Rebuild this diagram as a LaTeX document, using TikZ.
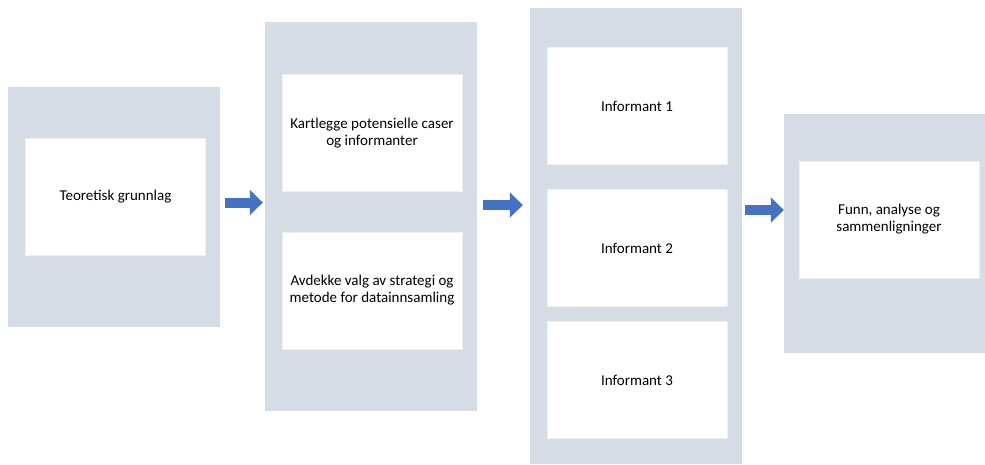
\documentclass[tikz,border=0pt]{standalone}
\usepackage{fontspec}
\setmainfont{Carlito}
\usetikzlibrary{arrows.meta}
\definecolor{panelgray}{RGB}{214,220,229}
\definecolor{flowblue}{RGB}{68,114,196}

\begin{document}
\begin{tikzpicture}[x=1pt,y=-1pt,
    panel/.style={fill=panelgray,inner sep=0pt},
    card/.style={fill=white,draw=black!6,minimum width=180pt,minimum height=117pt,
        align=center,font=\fontsize{15}{17}\selectfont},
    flow/.style={draw=flowblue,line width=10pt,-{Triangle[length=13pt,width=25pt]}}]
    \useasboundingbox (0,0) rectangle (985,464);
    % Felt
    \node[panel,minimum width=212pt,minimum height=240pt] (p1) at (114,207) {};
    \node[panel,minimum width=212pt,minimum height=389pt] (p2) at (371,216.5) {};
    \node[panel,minimum width=212pt,minimum height=456pt] (p3) at (636,236) {};
    \node[panel,minimum width=201pt,minimum height=239pt] (p4) at (884.5,233.5) {};

    % Bokser
    \node[card] (teori) at (115.5,197) {Teoretisk grunnlag};
    \node[card] (kartlegge) at (372,133) {Kartlegge potensielle caser\\og informanter};
    \node[card] (avdekke) at (372,290.5) {Avdekke valg av strategi og\\metode for datainnsamling};
    \node[card] (inf1) at (637,106) {Informant 1};
    \node[card] (inf2) at (637,248) {Informant 2};
    \node[card] (inf3) at (637,380) {Informant 3};
    \node[card] (funn) at (889,219.5) {Funn, analyse og\\sammenligninger};

    % Piler
    \coordinate (a1) at ([yshift=4.5pt]p1.east);
    \coordinate (a2) at ([yshift=11.5pt]p2.east);
    \coordinate (a3) at ([yshift=26pt]p3.east);
    \draw[flow,shorten <=5pt,shorten >=2pt] (a1) -- (a1 -| p2.west);
    \draw[flow,shorten <=6pt,shorten >=7pt] (a2) -- (a2 -| p3.west);
    \draw[flow,shorten <=3pt,shorten >=0pt] (a3) -- (a3 -| p4.west);
\end{tikzpicture}
\end{document}
